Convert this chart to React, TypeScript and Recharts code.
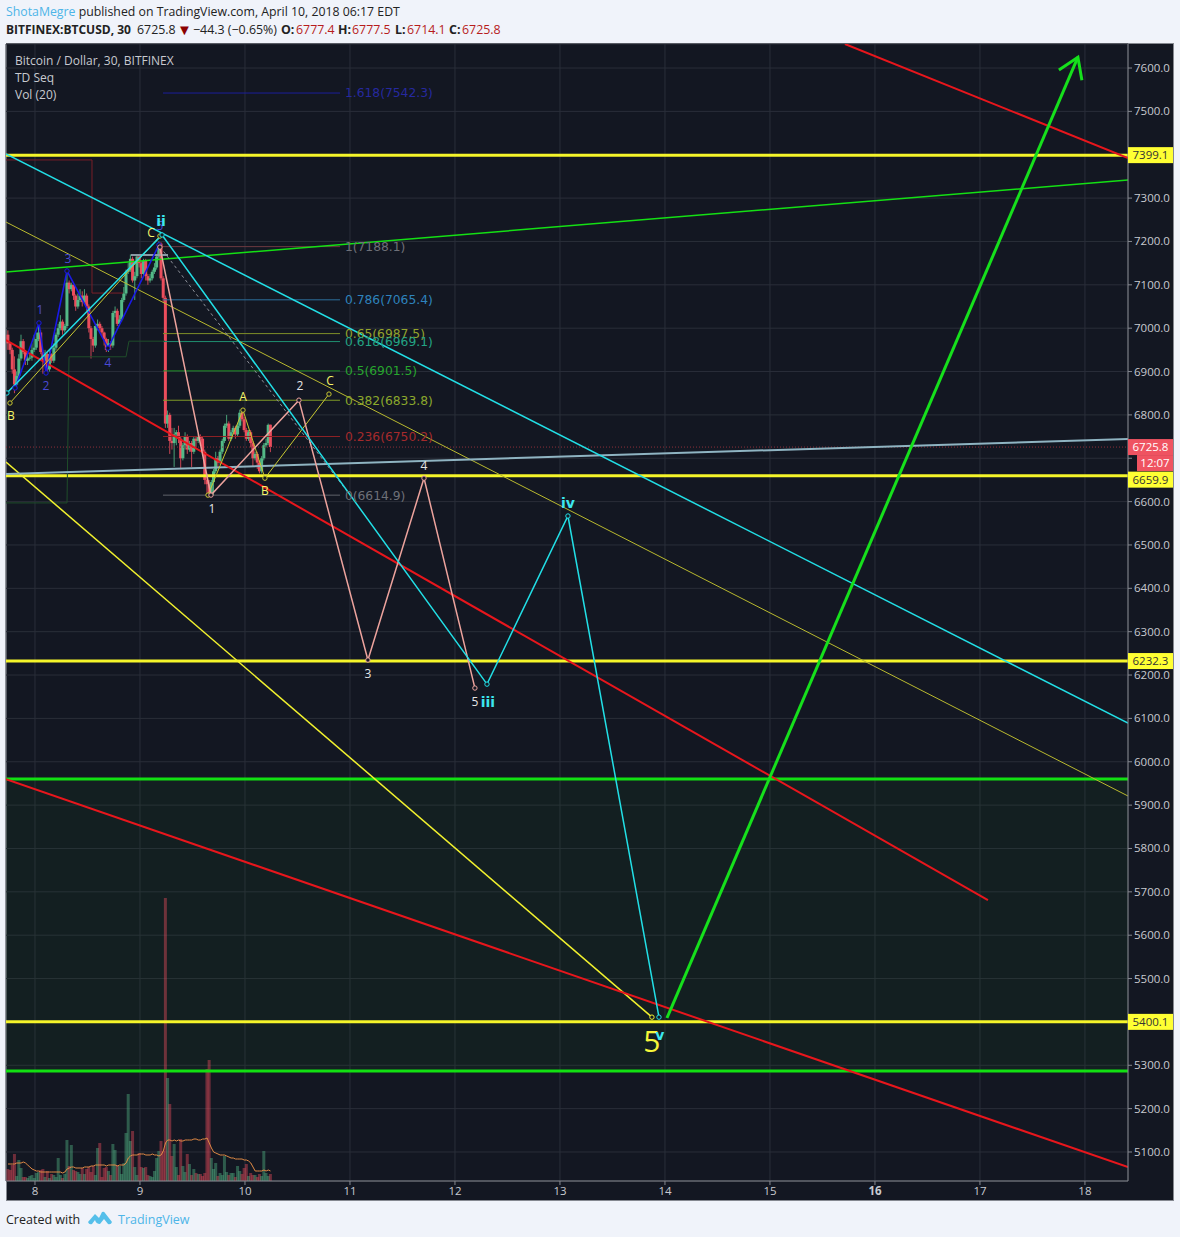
import React from 'react';
import { ComposedChart, XAxis, YAxis, CartesianGrid, Bar, Line, ReferenceArea, ReferenceDot } from 'recharts';

const FONT = '"Open Sans", sans-serif';
const PANEL = '#131722';
const X_MIN = 7.724;
const X_MAX = 18.41;
const Y_MIN = 5033.1;
const Y_MAX = 7655.4;
const FIRST_BAR_DAY = 7.743;
const BARS_PER_DAY = 48;

const dayTicks = [8, 9, 10, 11, 12, 13, 14, 15, 16, 17, 18];
const priceTicks = [5100, 5200, 5300, 5400, 5500, 5600, 5700, 5800, 5900, 6000, 6100, 6200, 6300, 6400, 6500, 6600, 6700, 6800, 6900, 7000, 7100, 7200, 7300, 7400, 7500, 7600];
const ticksUnderTags = [5400, 6700, 7400];

const opens = [
  6985, 6965, 6950, 6905, 6870, 6890, 6930, 6970, 6945, 6925,
  6930, 6932, 6950, 6955, 6975, 6990, 6945, 6925, 6940, 6905,
  6940, 6925, 6955, 6985, 7000, 7015, 6995, 7005, 7105, 7090,
  7100, 7075, 7050, 7065, 7075, 7060, 7075, 7050, 7000, 6975,
  6960, 7005, 7010, 7000, 6990, 6975, 6950, 6965, 6960, 7035,
  7040, 7010, 7020, 7065, 7080, 7130, 7135, 7160, 7110, 7120,
  7165, 7150, 7125, 7155, 7120, 7110, 7115, 7130, 7140, 7165,
  7195, 7115, 7070, 6780, 6800, 6740, 6735, 6755, 6760, 6745,
  6700, 6730, 6750, 6720, 6735, 6715, 6745, 6740, 6750, 6745,
  6715, 6650, 6640, 6620, 6645, 6670, 6700, 6690, 6715, 6740,
  6775, 6780, 6745, 6760, 6770, 6755, 6775, 6805, 6790, 6765,
  6745, 6760, 6735, 6700, 6710, 6690, 6670, 6700, 6730, 6735,
  6777.4,
];
const highs = [
  6995, 6968, 6955, 6935, 6900, 6940, 6985, 6975, 6950, 6945,
  6940, 6965, 6985, 6990, 7012, 6995, 6950, 6950, 6945, 6950,
  6942, 6965, 6990, 7010, 7030, 7020, 7010, 7132, 7110, 7105,
  7100, 7078, 7080, 7090, 7085, 7090, 7080, 7055, 7005, 6980,
  7010, 7020, 7015, 7005, 6992, 6978, 6975, 6970, 7040, 7050,
  7045, 7030, 7070, 7095, 7135, 7150, 7170, 7165, 7130, 7170,
  7170, 7155, 7160, 7160, 7125, 7125, 7135, 7150, 7170, 7200,
  7198, 7120, 7075, 6810, 6805, 6770, 6770, 6765, 6775, 6750,
  6735, 6760, 6755, 6740, 6740, 6750, 6750, 6755, 6755, 6750,
  6720, 6660, 6650, 6650, 6675, 6715, 6705, 6720, 6745, 6780,
  6800, 6785, 6765, 6775, 6775, 6780, 6812, 6810, 6795, 6770,
  6765, 6765, 6740, 6715, 6715, 6695, 6705, 6735, 6745, 6780,
  6777.5,
];
const lows = [
  6950, 6940, 6895, 6850, 6860, 6885, 6925, 6940, 6915, 6915,
  6925, 6925, 6945, 6950, 6970, 6940, 6895, 6920, 6895, 6900,
  6920, 6920, 6950, 6980, 6995, 6985, 6990, 7000, 7080, 7085,
  7065, 7040, 7045, 7060, 7050, 7055, 7040, 6990, 6930, 6945,
  6955, 6995, 6990, 6980, 6960, 6945, 6945, 6950, 6955, 7025,
  7005, 7005, 7015, 7060, 7075, 7125, 7130, 7105, 7065, 7115,
  7140, 7115, 7120, 7110, 7100, 7105, 7110, 7125, 7135, 7160,
  7110, 7060, 6770, 6770, 6710, 6720, 6680, 6730, 6735, 6675,
  6695, 6720, 6710, 6715, 6680, 6710, 6725, 6735, 6730, 6705,
  6640, 6610, 6615, 6612, 6615, 6665, 6680, 6685, 6710, 6735,
  6770, 6740, 6740, 6755, 6745, 6750, 6770, 6785, 6760, 6740,
  6740, 6725, 6680, 6695, 6675, 6665, 6665, 6695, 6725, 6730,
  6714.1,
];
const closes = [
  6965, 6950, 6905, 6870, 6890, 6930, 6970, 6945, 6925, 6930,
  6932, 6950, 6955, 6975, 6990, 6945, 6925, 6940, 6905, 6940,
  6925, 6955, 6985, 7000, 7015, 6995, 7005, 7105, 7090, 7100,
  7075, 7050, 7065, 7075, 7060, 7075, 7050, 7000, 6975, 6960,
  7005, 7010, 7000, 6990, 6975, 6950, 6965, 6960, 7035, 7040,
  7010, 7020, 7065, 7080, 7130, 7135, 7160, 7110, 7120, 7165,
  7150, 7125, 7155, 7120, 7110, 7115, 7130, 7140, 7165, 7195,
  7115, 7070, 6780, 6800, 6740, 6735, 6755, 6760, 6745, 6700,
  6730, 6750, 6720, 6735, 6715, 6745, 6740, 6750, 6745, 6715,
  6650, 6640, 6620, 6645, 6670, 6700, 6690, 6715, 6740, 6775,
  6780, 6745, 6760, 6770, 6755, 6775, 6805, 6790, 6765, 6745,
  6760, 6735, 6700, 6710, 6690, 6670, 6700, 6730, 6735, 6777,
  6725.8,
];
const volumes = [
  12, 11, 16, 27, 5, 21, 13, 4, 4, 3,
  5, 6, 3, 8, 9, 11, 12, 4, 10, 3,
  7, 6, 4, 23, 6, 3, 7, 41, 15, 36,
  11, 10, 9, 7, 13, 7, 12, 14, 9, 15,
  6, 33, 38, 4, 13, 14, 10, 6, 37, 31,
  16, 15, 7, 18, 48, 87, 40, 50, 14, 6,
  28, 14, 13, 14, 6, 5, 4, 10, 23, 30,
  40, 30, 283, 103, 77, 25, 37, 14, 6, 42,
  15, 9, 27, 17, 6, 12, 8, 7, 7, 5,
  8, 112, 121, 23, 12, 18, 5, 8, 6, 25,
  9, 6, 8, 8, 4, 15, 10, 7, 13, 17,
  5, 8, 6, 6, 4, 7, 5, 30, 8, 5,
  7,
];
const volumeAverage = [
  17, 17, 17, 17, 18, 18, 18, 19, 18, 16,
  14, 12, 11, 10, 10, 9, 9, 9, 9, 9,
  9, 9, 9, 9, 9, 8, 9, 12, 13, 14,
  14, 13, 13, 13, 13, 14, 14, 14, 15, 15,
  16, 16, 16, 16, 16, 15, 16, 16, 16, 16,
  15, 16, 16, 16, 18, 23, 25, 26, 26, 26,
  27, 27, 27, 26, 26, 26, 27, 26, 26, 25,
  26, 30, 38, 41, 41, 40, 41, 40, 41, 40,
  40, 41, 41, 41, 41, 42, 42, 41, 41, 42,
  42, 43, 38, 33, 29, 28, 27, 26, 26, 26,
  25, 24, 23, 23, 22, 22, 22, 22, 21, 21,
  20, 18, 14, 10, 10, 10, 10, 11, 10, 11,
  10,
];

const rows = closes.map((c, i) => ({
  x: FIRST_BAR_DAY + i / BARS_PER_DAY,
  o: opens[i], h: highs[i], l: lows[i], c,
  vol: volumes[i], ma: volumeAverage[i],
}));

type Pt = [number, number];
type Trend = { pts: Pt[]; color: string; width: number; dash?: string; dots?: boolean };

const trends: Trend[] = [
  { pts: [[7.724, 7388], [8.543, 7388], [8.543, 7081], [8.838, 7081]], color: '#7a1f28', width: 1 },
  { pts: [[7.724, 6597], [8.305, 6597], [8.324, 6934], [8.867, 6934], [8.895, 6970], [9.238, 6970]], color: '#1f4d2a', width: 1 },
  { pts: [[8.914, 7169], [9.267, 7169]], color: '#8a9aa5', width: 2 },
  { pts: [[7.724, 6725.8], [18.41, 6725.8]], color: '#8c2f3a', width: 1, dash: '1 2' },
  { pts: [[7.724, 7244.8], [18.41, 5921]], color: '#b9b92f', width: 1 },
  { pts: [[7.724, 6691.3], [13.876, 5411]], color: '#f2f22e', width: 1.5 },
  { pts: [[13.876, 5411]], color: '#f2f22e', width: 1, dots: true },
  { pts: [[7.724, 7129.5], [18.41, 7341.7]], color: '#14e014', width: 1.5 },
  { pts: [[7.724, 6663.7], [18.41, 6744.4]], color: '#8fb4c2', width: 2 },
  { pts: [[7.724, 7401.7], [18.41, 6089]], color: '#22dfe6', width: 1.5 },
  { pts: [[15.714, 7655.4], [18.41, 7392.4]], color: '#e8161c', width: 2 },
  { pts: [[7.724, 6972.7], [17.076, 5681]], color: '#e8161c', width: 2 },
  { pts: [[7.724, 5960], [18.41, 5065]], color: '#e8161c', width: 2 },
  { pts: [[9.19, 7188], [11, 6614.9]], color: '#8d9099', width: 1, dash: '3 3' },
  { pts: [[7.81, 6862], [8.038, 7012], [8.105, 6896.6], [8.305, 7132], [8.695, 6954], [9.181, 7192]], color: '#1a1ae6', width: 1.6, dots: true },
  { pts: [[7.762, 6827.4], [9.19, 7212.5]], color: '#c8c832', width: 1, dots: true },
  { pts: [[9.648, 6615], [9.981, 6811], [10.19, 6654], [10.8, 6848]], color: '#c8c832', width: 1, dots: true },
  { pts: [[9.19, 7187], [9.676, 6615], [10.514, 6834], [11.171, 6234.7], [11.705, 6654], [12.19, 6170]], color: '#eda39d', width: 1.5, dots: true },
  { pts: [[7.733, 6850.5], [9.21, 7215], [12.305, 6179], [13.076, 6566.8], [13.943, 5411]], color: '#22dfe6', width: 1.5, dots: true },
  { pts: [[14.019, 5409], [17.933, 7625]], color: '#16e01c', width: 3 },
  { pts: [[17.752, 7595.4], [17.933, 7625], [17.971, 7572]], color: '#16e01c', width: 3 },
];

const levels: { price: number; color: string }[] = [
  { price: 7399.1, color: '#f5f52a' },
  { price: 6659.9, color: '#f5f52a' },
  { price: 6232.3, color: '#f5f52a' },
  { price: 5400.1, color: '#f5f52a' },
  { price: 5960, color: '#12e012' },
  { price: 5287, color: '#12e012' },
];

const fibs: { label: string; price: number; color: string; text: string }[] = [
  { label: '1.618(7542.3)', price: 7542.3, color: '#1c1f9a', text: '#26299f' },
  { label: '1(7188.1)', price: 7188.1, color: '#6b3a40', text: '#6e7078' },
  { label: '0.786(7065.4)', price: 7065.4, color: '#2c6f9c', text: '#2e83bd' },
  { label: '0.65(6987.5)', price: 6987.5, color: '#7f8f28', text: '#93a32c' },
  { label: '0.618(6969.1)', price: 6969.1, color: '#1f8f70', text: '#23a484' },
  { label: '0.5(6901.5)', price: 6901.5, color: '#1f8f26', text: '#27a52e' },
  { label: '0.382(6833.8)', price: 6833.8, color: '#7f9a26', text: '#8ba82c' },
  { label: '0.236(6750.2)', price: 6750.2, color: '#8f2226', text: '#a52a2c' },
  { label: '0(6614.9)', price: 6614.9, color: '#5f626a', text: '#6e7078' },
];
const FIB_START = 9.219;
const FIB_END = 10.905;
const FIB_LABEL_X = 10.952;

const BLUE = '#4a4ad6';
const YELLOW = '#f6f66a';
const WHITE = '#e6e6e6';
const CYAN = '#3ce6ee';
const waveLabels: { t: string; x: number; p: number; c: string; s: number; b?: boolean }[] = [
  { t: '1', x: 8.048, p: 7042, c: BLUE, s: 12 },
  { t: '2', x: 8.105, p: 6867, c: BLUE, s: 12 },
  { t: '3', x: 8.314, p: 7160, c: BLUE, s: 12 },
  { t: '4', x: 8.695, p: 6920, c: BLUE, s: 12 },
  { t: '5', x: 9.19, p: 7236, c: BLUE, s: 12 },
  { t: 'B', x: 7.771, p: 6797.5, c: YELLOW, s: 12 },
  { t: 'C', x: 9.105, p: 7220, c: YELLOW, s: 12 },
  { t: 'A', x: 9.981, p: 6841, c: YELLOW, s: 12 },
  { t: 'B', x: 10.19, p: 6625, c: YELLOW, s: 12 },
  { t: 'C', x: 10.81, p: 6878, c: YELLOW, s: 12 },
  { t: '5', x: 13.876, p: 5356, c: '#f6f63a', s: 30 },
  { t: '1', x: 9.686, p: 6583, c: WHITE, s: 12 },
  { t: '2', x: 10.524, p: 6867, c: WHITE, s: 12 },
  { t: '3', x: 11.171, p: 6203, c: WHITE, s: 12 },
  { t: '4', x: 11.705, p: 6682, c: WHITE, s: 12 },
  { t: '5', x: 12.19, p: 6138, c: WHITE, s: 12 },
  { t: 'ii', x: 9.2, p: 7247, c: CYAN, s: 14, b: true },
  { t: 'iii', x: 12.314, p: 6138, c: CYAN, s: 14, b: true },
  { t: 'iv', x: 13.076, p: 6597, c: CYAN, s: 14, b: true },
  { t: 'v', x: 13.952, p: 5370, c: CYAN, s: 14, b: true },
];

const YEL_TAG = '#ffff33';
const RED_TAG = '#ef5361';
const priceTags: { t: string; p: number; bg: string; fg: string; dy: number; left: number }[] = [
  { t: '7399.1', p: 7399.1, bg: YEL_TAG, fg: '#333', dy: 0, left: 0 },
  { t: '6725.8', p: 6725.8, bg: RED_TAG, fg: '#fff', dy: 0, left: 0 },
  { t: '12:07', p: 6725.8, bg: RED_TAG, fg: '#fff', dy: 16, left: 9 },
  { t: '6659.9', p: 6659.9, bg: YEL_TAG, fg: '#333', dy: 4, left: 0 },
  { t: '6232.3', p: 6232.3, bg: YEL_TAG, fg: '#333', dy: 0, left: 0 },
  { t: '5400.1', p: 5400.1, bg: YEL_TAG, fg: '#333', dy: 0, left: 0 },
];

const BODY_WIDTH = 3;

const Candle = (props: any) => {
  const { x, y, width, height, payload } = props;
  const up = payload.c >= payload.o;
  const color = up ? '#53b987' : '#eb4d5c';
  const k = height / Math.max(payload.h - payload.l, 1);
  const top = y + (payload.h - Math.max(payload.o, payload.c)) * k;
  const bh = Math.max(Math.abs(payload.c - payload.o) * k, 1);
  const mid = x + width / 2;
  return (
    <g>
      <line x1={mid} x2={mid} y1={y} y2={y + height} stroke={color} strokeWidth={1} opacity={0.85} />
      <rect x={mid - BODY_WIDTH / 2} y={top} width={BODY_WIDTH} height={bh} fill={color} />
    </g>
  );
};

const VolumeBar = (props: any) => {
  const { x, y, width, height, payload } = props;
  const up = payload.c >= payload.o;
  return <rect x={x + width / 2 - BODY_WIDTH / 2} y={y} width={BODY_WIDTH} height={height} fill={up ? '#53b987' : '#eb4d5c'} fillOpacity={0.42} />;
};

const PriceTag = (tag: (typeof priceTags)[number]) => (props: any) => {
  const { cx, cy } = props;
  const yy = cy + tag.dy;
  return (
    <g>
      <rect x={cx + tag.left} y={yy - 8} width={45 - tag.left} height={16} fill={tag.bg} />
      <text x={cx + 22.5 + tag.left / 2} y={yy + 4} textAnchor="middle" fontSize={11.5} fontFamily={FONT} fill={tag.fg}>{tag.t}</text>
    </g>
  );
};

const DayTick = (props: any) => {
  const { x, y, payload } = props;
  return (
    <text x={x} y={y + 8} textAnchor="middle" fontSize={11.5} fontFamily={FONT} fill="#c8cad0" fontWeight={payload.value === 16 ? 700 : 400}>
      {payload.value}
    </text>
  );
};

const PriceTick = (props: any) => {
  const { x, y, payload } = props;
  if (ticksUnderTags.includes(payload.value)) return <g />;
  return (
    <text x={x} y={y + 4} textAnchor="start" fontSize={11.5} fontFamily={FONT} fill="#c8cad0">
      {payload.value.toFixed(1)}
    </text>
  );
};

const abs = (left: number, top: number): React.CSSProperties => ({ position: 'absolute', left, top, whiteSpace: 'nowrap' });
const DARKRED = '#b71c1c';
const headerStats: [string, string][] = [['O:', '6777.4'], ['H:', '6777.5'], ['L:', '6714.1'], ['C:', '6725.8']];

export default function App() {
  return (
    <div style={{ position: 'absolute', left: 0, top: 0, width: 1180, height: 1237, background: '#f0f3fa', overflow: 'hidden', fontFamily: FONT, fontSize: 12.3, color: '#222' }}>
      <div style={abs(6, 3)}><span style={{ color: '#4db5e8' }}>ShotaMegre</span> published on TradingView.com, April 10, 2018 06:17 EDT</div>
      <div style={{ ...abs(6, 21), fontSize: 12 }}><b>BITFINEX:BTCUSD, 30</b></div>
      <div style={{ ...abs(137, 21), fontSize: 12.4 }}>6725.8</div>
      <div style={{ ...abs(177, 19), fontSize: 15, color: '#8b0000' }}>▼</div>
      <div style={{ ...abs(193, 21), fontSize: 12.4 }}>−44.3 (−0.65%)</div>
      {headerStats.map(([k, v], i) => (
        <div key={k} style={{ ...abs([281, 338, 395, 449][i], 21), fontSize: 12.4 }}>
          <b>{k}</b>
        </div>
      ))}
      {headerStats.map(([k, v], i) => (
        <div key={k + v} style={{ ...abs([296, 352, 407, 462][i], 21), fontSize: 12.4, color: DARKRED }}>{v}</div>
      ))}
      <div style={{ position: 'absolute', left: 6, top: 43, width: 1166, height: 1156, background: PANEL, border: '1px solid #858890' }} />
      <div style={{ position: 'absolute', left: 0, top: 0 }}>
        <ComposedChart width={1180} height={1237} data={rows} margin={{ top: 44, right: 7, bottom: 37, left: 6 }}>
          <CartesianGrid xAxisId="main" yAxisId="price" stroke="#2a2e39" strokeWidth={1} />
          <XAxis xAxisId="main" dataKey="x" type="number" domain={[X_MIN, X_MAX]} ticks={dayTicks} allowDataOverflow height={19} tick={<DayTick />} tickSize={4} stroke="#858890" interval={0} />
          <XAxis xAxisId="vol" dataKey="x" type="number" domain={[X_MIN, X_MAX]} allowDataOverflow hide height={0} />
          <XAxis xAxisId="candle" dataKey="x" type="number" domain={[X_MIN, X_MAX]} allowDataOverflow hide height={0} />
          <YAxis yAxisId="price" orientation="right" type="number" domain={[Y_MIN, Y_MAX]} ticks={priceTicks} allowDataOverflow width={45} tick={<PriceTick />} tickSize={4} stroke="#858890" interval={0} />
          <YAxis yAxisId="vol" type="number" domain={[0, 1137]} allowDataOverflow hide width={0} />
          <ReferenceArea xAxisId="main" yAxisId="price" y1={5287} y2={5960} fill="#1a5a1e" fillOpacity={0.12} stroke="none" />
          <Bar xAxisId="vol" yAxisId="vol" dataKey="vol" barSize={3} shape={<VolumeBar />} isAnimationActive={false} />
          <Line xAxisId="vol" yAxisId="vol" dataKey="ma" stroke="#e08a45" strokeWidth={1} dot={false} isAnimationActive={false} />
          <Bar xAxisId="candle" yAxisId="price" dataKey={(d: any) => [d.l, d.h]} barSize={3} shape={<Candle />} isAnimationActive={false} />
          {fibs.map((f) => (
            <Line key={f.label} xAxisId="main" yAxisId="price" data={[{ x: FIB_START, y: f.price }, { x: FIB_END, y: f.price }]} dataKey="y" stroke={f.color} strokeWidth={1} dot={false} isAnimationActive={false} />
          ))}
          {levels.map((l) => (
            <Line key={l.price} xAxisId="main" yAxisId="price" data={[{ x: X_MIN, y: l.price }, { x: X_MAX, y: l.price }]} dataKey="y" stroke={l.color} strokeWidth={3} dot={false} isAnimationActive={false} />
          ))}
          {trends.map((t, i) => (
            <Line key={i} xAxisId="main" yAxisId="price" data={t.pts.map(([x, y]) => ({ x, y }))} dataKey="y" stroke={t.color} strokeWidth={t.width} strokeDasharray={t.dash} dot={t.dots ? { r: 2.2, fill: PANEL, stroke: t.color, strokeWidth: 1 } : false} isAnimationActive={false} />
          ))}
          {fibs.map((f) => (
            <ReferenceDot key={f.label} xAxisId="main" yAxisId="price" x={FIB_LABEL_X} y={f.price} r={0} stroke="none" ifOverflow="visible"
              label={{ value: f.label, position: 'right', offset: 0, fill: f.text, fontSize: 12.3, fontFamily: '"DejaVu Sans"' }} />
          ))}
          {waveLabels.map((w, i) => (
            <ReferenceDot key={i} xAxisId="main" yAxisId="price" x={w.x} y={w.p} r={0} stroke="none" ifOverflow="visible"
              label={{ value: w.t, position: 'center', fill: w.c, fontSize: w.s, fontFamily: w.b ? '"DejaVu Sans"' : FONT, fontWeight: w.b ? 700 : 400 }} />
          ))}
          {priceTags.map((t) => (
            <ReferenceDot key={t.t} xAxisId="main" yAxisId="price" x={X_MAX} y={t.p} ifOverflow="visible" shape={PriceTag(t)} />
          ))}
        </ComposedChart>
      </div>
      <div style={{ ...abs(15, 52), color: '#c8cad0', fontSize: 12 }}>Bitcoin / Dollar, 30, BITFINEX</div>
      <div style={{ ...abs(15, 69), color: '#c8cad0', fontSize: 12 }}>TD Seq</div>
      <div style={{ ...abs(15, 86), color: '#c8cad0', fontSize: 12 }}>Vol (20)</div>
      <div style={{ ...abs(6, 1211), fontSize: 12.5 }}>Created with</div>
      <svg style={{ position: 'absolute', left: 87, top: 1210 }} width={26} height={16} viewBox="0 0 26 16">
        <path d="M1 12 L8 4 L12 8 L15 2 Q17 1 18 3 L25 12 Q24 15 21 14 L17 9 L13 14 Q9 14 8 10 L5 14 Q2 15 1 12 Z" fill="#55bfea" />
      </svg>
      <div style={{ ...abs(118, 1211), fontSize: 12.5, color: '#4db5e8' }}>TradingView</div>
    </div>
  );
}
